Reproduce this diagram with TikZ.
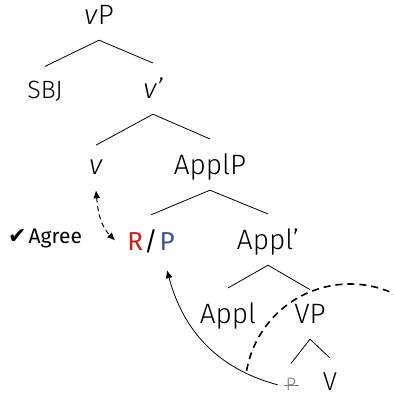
\documentclass[tikz,border=0pt]{standalone}
\usepackage{fontspec}
\setmainfont{Fira Sans}[UprightFont={* Light}, ItalicFont={* Light Italic}]
\newfontfamily\regfont{Fira Sans}
\newfontfamily\checkfont{DejaVu Sans}
\usetikzlibrary{arrows.meta}
\definecolor{rred}{RGB}{200,32,30}
\definecolor{pblue}{RGB}{62,86,150}
\definecolor{tracegray}{RGB}{125,125,125}
\tikzset{
  lab/.style={anchor=base, inner xsep=2pt, inner ysep=15pt, text depth=0pt,
              font=\fontsize{28}{30}\selectfont},
  small/.style={lab, font=\fontsize{25}{27}\selectfont},
  branch/.style={line width=0.8pt},
  agreearrow/.style={line width=1pt, dash pattern=on 5pt off 3.5pt,
                     {Latex[length=8pt,width=7pt]}-{Latex[length=8pt,width=7pt]}},
  movearrow/.style={line width=0.8pt, -{Latex[length=8pt,width=7pt]}},
  boundary/.style={line width=1.6pt, dash pattern=on 7pt off 5pt},
}
\begin{document}
\begin{tikzpicture}[x=1pt, y=1pt]
\useasboundingbox (0,0) rectangle (393,398);

% tree labels
\node[lab] (vP) at (99,373) {\textit{v}P};
\node[small] (SBJ) at (45,299) {SBJ};
\node[lab] (vbar) at (153,299) {\textit{v’}};
\node[lab] (v) at (96,223) {\textit{v}};
\node[lab] (ApplP) at (210,223) {ApplP};
\node[lab, inner xsep=12pt, font=\fontsize{26}{28}\regfont] (RP) at (151,147)
  {\textcolor{rred}{R}\hspace{1pt}/\hspace{2pt}\textcolor{pblue}{P}};
\node[anchor=base west, inner sep=0pt, font=\fontsize{21}{23}\regfont] (agree) at (8,154)
  {{\checkfont\fontsize{22}{24}\selectfont ✔}\hspace{2pt}Agree};
\node[lab] (Applbar) at (268,148) {Appl’};
\node[lab] (Appl) at (228,74) {Appl};
\node[lab] (VP) at (310,74) {VP};
\node[lab, inner xsep=8pt, font=\fontsize{18}{20}\selectfont, text=tracegray] (Ptrace) at (291,7)
  {\rlap{\hspace{-2pt}\raisebox{0.3em}{\rule{0.85em}{1pt}}}P};
\node[lab, font=\fontsize{26}{28}\selectfont] (V) at (330,7) {V};

% branches
\draw[branch] (vP.south) -- (SBJ.north);
\draw[branch] (vP.south) -- (vbar.north);
\draw[branch] (vbar.south) -- (v.north);
\draw[branch] (vbar.south) -- (ApplP.north);
\draw[branch] (ApplP.south) -- (RP.north);
\draw[branch] (ApplP.south) -- (Applbar.north);
\draw[branch] (Applbar.south) -- (Appl.north);
\draw[branch] (Applbar.south) -- (VP.north);
\draw[branch] (VP.south) -- (Ptrace.north);
\draw[branch] (VP.south) -- (V.north);

% agreement and movement
\draw[agreearrow] (v.south) to[out=-85, in=135] (RP.west);
\draw[movearrow] (Ptrace.west) to[out=165, in=-75] ([xshift=16pt, yshift=-4pt]RP.south);

% phase boundary
\draw[boundary] (350,9) ++(170:105) arc[start angle=170, end angle=60, radius=105];
\end{tikzpicture}
\end{document}
